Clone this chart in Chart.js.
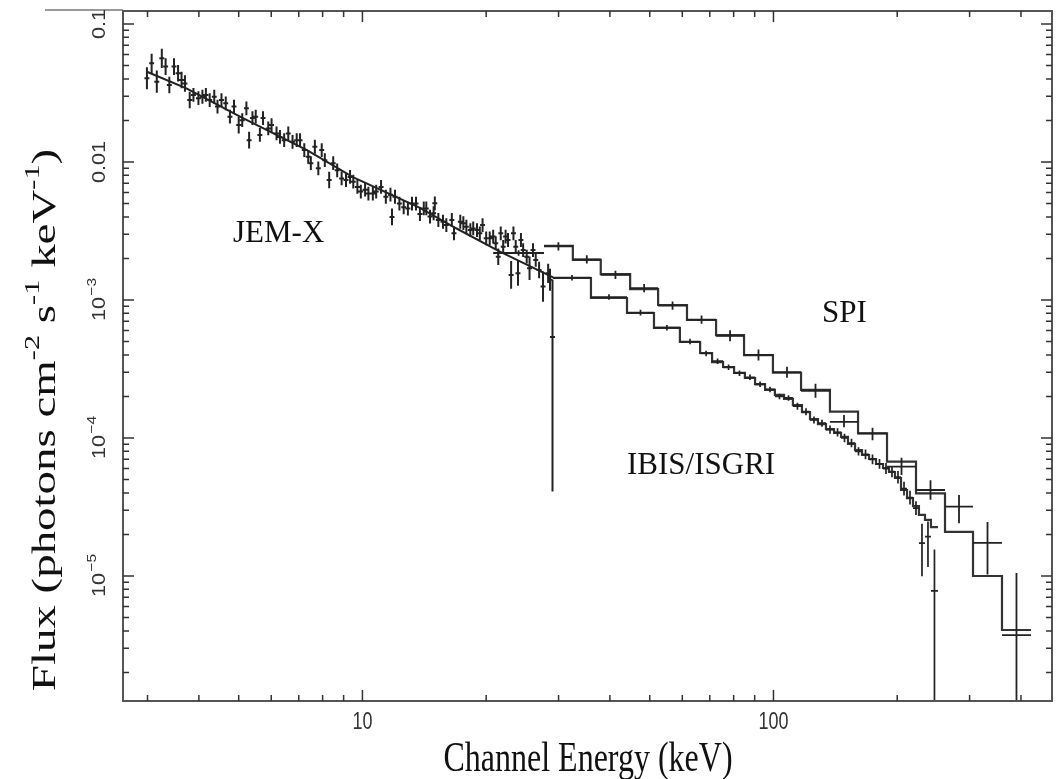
<!DOCTYPE html>
<html>
<head>
<meta charset="utf-8">
<script src="https://cdn.jsdelivr.net/npm/chart.js@4.4.1/dist/chart.umd.min.js"></script>
<style>
  html, body { margin: 0; padding: 0; background: #fff; }
  #wrap { width: 1062px; height: 779px; position: relative; }
</style>
</head>
<body>
<div id="wrap"><canvas id="spectrum"></canvas></div>
<script>
// ---- values ----
// JEM-X channels (keV), flux, error (dex, symmetric)
const jemE = [2.99,3.07,3.16,3.25,3.32,3.39,3.48,3.56,3.63,3.70,
  3.80,3.88,3.99,4.08,4.16,4.25,4.36,4.44,4.54,4.65,
  4.76,4.87,5.00,5.10,5.22,5.30,5.40,5.50,5.63,5.73,
  5.90,6.01,6.18,6.30,6.45,6.60,6.76,6.92,7.05,7.22,
  7.38,7.49,7.66,7.81,7.96,8.10,8.30,8.49,8.68,8.90,
  9.12,9.33,9.50,9.72,9.91,10.15,10.34,10.6,10.8,11.1,
  11.4,11.7,11.8,12.0,12.3,12.6,12.9,13.2,13.5,13.8,
  14.1,14.3,14.6,14.9,15.0,15.3,15.7,16.0,16.5,16.7,
  17.3,17.6,17.9,18.3,18.6,19.0,19.3,19.6,20.0,20.4,
  20.8,21.1,21.4,21.7,22.0,22.3,22.6,23.0,23.3,23.6,
  23.9,24.3,24.6,25.1,25.5,26.0,26.4,26.9,27.5,28.3,28.6];
const jemF = [0.0404,0.0519,0.0382,0.0564,0.0491,0.0361,0.0491,0.0440,0.0393,0.0371,
  0.0281,0.0306,0.0290,0.0297,0.0306,0.0281,0.0297,0.0252,0.0281,0.0266,
  0.0213,0.0252,0.0185,0.0201,0.0245,0.0144,0.0208,0.0213,0.0157,0.0208,
  0.0175,0.0185,0.0161,0.0152,0.0144,0.0161,0.0140,0.0144,0.0144,0.0122,
  0.0109,0.0098,0.0129,0.0090,0.0122,0.0103,0.0074,0.0098,0.0087,0.0076,
  0.0074,0.0078,0.0072,0.0066,0.0061,0.0063,0.0059,0.0059,0.0061,0.0066,
  0.0056,0.0058,0.0040,0.0056,0.0050,0.0047,0.0046,0.0050,0.0050,0.0042,
  4.61e-3,4.61e-3,4.02e-3,4.25e-3,5.02e-3,3.80e-3,3.69e-3,3.49e-3,3.80e-3,3.04e-3,
  3.69e-3,3.60e-3,3.40e-3,3.21e-3,3.30e-3,3.21e-3,3.04e-3,3.49e-3,2.80e-3,2.80e-3,
  2.88e-3,2.58e-3,2.06e-3,3.04e-3,2.43e-3,2.88e-3,2.72e-3,1.52e-3,3.04e-3,2.43e-3,
  1.56e-3,2.72e-3,2.30e-3,2.06e-3,1.70e-3,2.30e-3,1.95e-3,1.65e-3,1.25e-3,1.56e-3,1.40e-3];
const jemErr = [0.08,0.07,0.08,0.07,0.06,0.06,0.06,0.06,0.06,0.06,
  0.06,0.05,0.05,0.05,0.05,0.05,0.05,0.05,0.05,0.05,
  0.05,0.05,0.06,0.05,0.05,0.06,0.05,0.05,0.05,0.05,
  0.05,0.05,0.05,0.05,0.05,0.05,0.05,0.05,0.05,0.05,
  0.05,0.05,0.05,0.05,0.05,0.05,0.06,0.05,0.05,0.05,
  0.05,0.05,0.05,0.05,0.05,0.05,0.05,0.05,0.05,0.05,
  0.05,0.05,0.06,0.05,0.05,0.05,0.05,0.05,0.05,0.05,
  0.05,0.05,0.05,0.05,0.05,0.05,0.05,0.05,0.05,0.05,
  0.05,0.05,0.05,0.05,0.05,0.05,0.05,0.05,0.05,0.05,
  0.05,0.05,0.06,0.05,0.05,0.05,0.05,0.10,0.05,0.05,
  0.09,0.05,0.05,0.05,0.085,0.05,0.05,0.06,0.11,0.07,0.08];
// last JEM-X channel with its long error bar
const jemTailE = [29.0];
const jemTailF = [5.4e-4];
const jemTailLo = [4.1e-5];
const jemTailHi = [1.4e-3];
// JEM-X model curve
const jemModelE = [2.99, 3.73, 5.12, 7.33, 9.48, 13.8, 16.9, 21.6, 29.1];
const jemModelF = [0.0451, 0.0342, 0.0208, 0.0122, 7.78e-3, 4.65e-3, 3.31e-3, 2.24e-3, 1.46e-3];

// IBIS/ISGRI bins (edges, keV), model and data
const isgriEdges = [29.08,35.97,44.02,51.2,59.2,66.3,70.9,75.4,80.2,85.2,90.2,95.4,
  100.8,106.1,111.5,117.3,122.7,128.3,134.2,140.4,146.0,151.8,157.9,164.2,170.8,
  177.6,184.7,191.0,197.5,204.3,211.3,218.5,225.9,233.7,241.6,251.3];
const isgriModel = [1.443e-3,1.034e-3,8.05e-4,6.27e-4,4.96e-4,4.13e-4,3.55e-4,3.27e-4,
  2.96e-4,2.72e-4,2.46e-4,2.23e-4,2.05e-4,1.92e-4,1.73e-4,1.54e-4,1.37e-4,1.26e-4,
  1.16e-4,1.09e-4,1.02e-4,9.05e-5,8.18e-5,7.53e-5,7.04e-5,6.48e-5,6.06e-5,5.67e-5,
  5.13e-5,4.20e-5,3.67e-5,3.21e-5,2.77e-5,2.55e-5,2.26e-5];
const isgriData = [1.45e-3,1.05e-3,8.1e-4,6.3e-4,5.0e-4,4.1e-4,3.6e-4,3.25e-4,
  2.95e-4,2.75e-4,2.45e-4,2.25e-4,2.0e-4,1.95e-4,1.7e-4,1.55e-4,1.35e-4,1.28e-4,
  1.15e-4,1.1e-4,1.0e-4,9.2e-5,8.0e-5,7.6e-5,7.0e-5,6.5e-5,6.0e-5,5.7e-5,
  5.2e-5,4.3e-5,3.7e-5,3.1e-5,1.73e-5,1.93e-5,7.8e-6];
const isgriErrUp = [0.02,0.02,0.02,0.02,0.02,0.02,0.02,0.02,0.02,0.02,0.02,0.02,
  0.02,0.02,0.025,0.025,0.025,0.025,0.03,0.03,0.03,0.03,0.03,0.035,0.035,0.035,
  0.04,0.04,0.045,0.05,0.05,0.05,0.14,0.11,0.30];
const isgriErrDn = [0.02,0.02,0.02,0.02,0.02,0.02,0.02,0.02,0.02,0.02,0.02,0.02,
  0.02,0.02,0.025,0.025,0.025,0.025,0.03,0.03,0.03,0.03,0.03,0.035,0.035,0.035,
  0.04,0.04,0.045,0.05,0.05,0.05,0.24,0.22,3.0];

// SPI bins (edges, keV); the model covers every bin but the first
const spiEdges = [20.8,27.65,32.5,38.0,44.8,52.4,61.6,72.5,84.8,99.7,116.7,137.2,160.6,
  188.9,222.2,261.4,305.8,359.7,423.1];
const spiModel = [2.47e-3,1.95e-3,1.54e-3,1.20e-3,9.2e-4,7.16e-4,5.57e-4,3.99e-4,
  2.97e-4,2.23e-4,1.55e-4,1.08e-4,6.74e-5,3.97e-5,2.09e-5,1.0e-5,4.06e-6];
const spiData = [2.19e-3,2.45e-3,1.97e-3,1.52e-3,1.22e-3,9.1e-4,7.2e-4,5.5e-4,4.0e-4,
  3.0e-4,2.2e-4,1.31e-4,1.08e-4,6.2e-5,4.2e-5,3.18e-5,1.74e-5,3.73e-6];
const spiErrUp = [0.02,0.03,0.03,0.03,0.03,0.03,0.03,0.04,0.04,0.04,0.05,0.05,0.04,
  0.065,0.07,0.085,0.15,0.45];
const spiErrDn = [0.02,0.03,0.03,0.03,0.03,0.03,0.03,0.04,0.04,0.04,0.05,0.04,0.05,
  0.06,0.07,0.12,0.23,3.0];

// axes
const xMin = 2.615, xMax = 476;
const yMin = 1.242e-6, yMax = 0.1242;
const xMajor = [10, 100];
const xMinor = [3,4,5,6,7,8,9,20,30,40,50,60,70,80,90,200,300,400];
const xTickLabels = ['10', '100'];
const yMajor = [0.1, 0.01, 1e-3, 1e-4, 1e-5];
const yMinor = [2e-6,3e-6,4e-6,5e-6,6e-6,7e-6,8e-6,9e-6,
  2e-5,3e-5,4e-5,5e-5,6e-5,7e-5,8e-5,9e-5,
  2e-4,3e-4,4e-4,5e-4,6e-4,7e-4,8e-4,9e-4,
  2e-3,3e-3,4e-3,5e-3,6e-3,7e-3,8e-3,9e-3,
  0.02,0.03,0.04,0.05,0.06,0.07,0.08,0.09];
const yTickLabels = [['0.1'], ['0.01'], ['10', '\u22123'], ['10', '\u22124'], ['10', '\u22125']];

// ---- build datasets ----
const dex = (v, d) => v * Math.pow(10, d);
const jemHalf = 0.006; // half channel width in dex

const jemPoints = jemE.map((e, i) => ({
  x: e, y: jemF[i],
  xMin: dex(e, -jemHalf), xMax: dex(e, jemHalf),
  yMin: dex(jemF[i], -jemErr[i]), yMax: dex(jemF[i], jemErr[i])
})).concat(jemTailE.map((e, i) => ({
  x: e, y: jemTailF[i],
  xMin: dex(e, -jemHalf), xMax: dex(e, jemHalf),
  yMin: jemTailLo[i], yMax: jemTailHi[i]
})));

const binPoints = (edges, vals, up, dn) => vals.map((v, i) => ({
  x: Math.sqrt(edges[i] * edges[i + 1]), y: v,
  xMin: edges[i], xMax: edges[i + 1],
  yMin: dex(v, -dn[i]), yMax: dex(v, up[i])
}));

const stepLine = (edges, vals) =>
  vals.map((v, i) => ({ x: edges[i], y: v })).concat([{ x: edges[edges.length - 1], y: vals[vals.length - 1] }]);

const ink = '#222';

const errorBars = {
  id: 'errorBars',
  afterDatasetsDraw(chart) {
    const { ctx, chartArea: a, scales: { x, y } } = chart;
    ctx.save();
    ctx.beginPath();
    ctx.rect(a.left, a.top, a.right - a.left, a.bottom - a.top);
    ctx.clip();
    chart.data.datasets.forEach(ds => {
      if (!ds.errorBars) return;
      ctx.strokeStyle = ds.borderColor;
      ctx.lineWidth = ds.barWidth;
      ctx.beginPath();
      ds.data.forEach(p => {
        const px = x.getPixelForValue(p.x), py = y.getPixelForValue(p.y);
        ctx.moveTo(x.getPixelForValue(p.xMin), py);
        ctx.lineTo(x.getPixelForValue(p.xMax), py);
        ctx.moveTo(px, y.getPixelForValue(p.yMax));
        ctx.lineTo(px, y.getPixelForValue(p.yMin));
      });
      ctx.stroke();
    });
    ctx.restore();
  }
};

const sansFont = px => px + 'px "Liberation Sans", Arial, sans-serif';
const serifFont = px => px + 'px "Liberation Serif", "Times New Roman", serif';

// draws the frame, inward ticks on all four sides and all texts
const frameAndText = {
  id: 'frameAndText',
  afterDraw(chart) {
    const { ctx, chartArea: a, scales: { x, y } } = chart;
    ctx.save();

    ctx.strokeStyle = '#999';
    ctx.lineWidth = 2;
    ctx.beginPath();
    ctx.moveTo(45, a.top - 1);
    ctx.lineTo(a.left, a.top - 1);
    ctx.stroke();

    ctx.strokeStyle = '#555';
    ctx.lineWidth = 2;
    ctx.strokeRect(a.left, a.top, a.right - a.left, a.bottom - a.top);

    ctx.strokeStyle = '#333';
    ctx.lineWidth = 1.5;
    ctx.beginPath();
    const xt = (v, len) => {
      const px = x.getPixelForValue(v);
      ctx.moveTo(px, a.bottom); ctx.lineTo(px, a.bottom - len);
      ctx.moveTo(px, a.top); ctx.lineTo(px, a.top + len);
    };
    const yt = (v, len) => {
      const py = y.getPixelForValue(v);
      ctx.moveTo(a.left, py); ctx.lineTo(a.left + len, py);
      ctx.moveTo(a.right, py); ctx.lineTo(a.right - len, py);
    };
    xMajor.forEach(v => xt(v, 11));
    xMinor.forEach(v => xt(v, 6));
    yMajor.forEach(v => yt(v, 11));
    yMinor.forEach(v => yt(v, 6));
    ctx.stroke();

    // tick labels (the source figure is stretched vertically)
    ctx.fillStyle = '#333';
    ctx.textAlign = 'center';
    ctx.textBaseline = 'middle';
    xMajor.forEach((v, i) => {
      ctx.save();
      ctx.translate(x.getPixelForValue(v), 722);
      ctx.scale(1, 1.35);
      ctx.font = sansFont(18);
      ctx.fillText(xTickLabels[i], 0, 0);
      ctx.restore();
    });

    yMajor.forEach((v, i) => {
      const py = y.getPixelForValue(v);
      const [base, sup] = yTickLabels[i];
      ctx.save();
      ctx.translate(100, py);
      ctx.rotate(-Math.PI / 2);
      ctx.scale(1.2, 1);
      ctx.font = sansFont(18);
      const wb = ctx.measureText(base).width;
      let ws = 0;
      if (sup) {
        ctx.font = sansFont(13);
        ws = ctx.measureText(sup).width;
      }
      const start = -(wb + ws) / 2;
      ctx.textAlign = 'left';
      ctx.font = sansFont(18);
      ctx.fillText(base, start, 0);
      if (sup) {
        ctx.font = sansFont(13);
        ctx.fillText(sup, start + wb + 1, -8);
      }
      ctx.restore();
    });

    // axis titles
    ctx.fillStyle = '#111';
    ctx.save();
    ctx.translate(588, 760);
    ctx.scale(1, 1.3);
    ctx.textAlign = 'center';
    ctx.font = serifFont(32);
    ctx.fillText('Channel Energy (keV)', 0, 0);
    ctx.restore();

    const parts = [['Flux (photons cm', 0], ['-2', 1], [' s', 0], ['-1', 1], [' keV', 0], ['-1', 1], [')', 0]];
    const big = serifFont(34), small = serifFont(22);
    let total = 0;
    parts.forEach(([t, s]) => { ctx.font = s ? small : big; total += ctx.measureText(t).width; });
    ctx.save();
    ctx.translate(46, 420);
    ctx.rotate(-Math.PI / 2);
    ctx.scale(1.38, 1);
    ctx.textAlign = 'left';
    let cx = -total / 2;
    parts.forEach(([t, s]) => {
      ctx.font = s ? small : big;
      ctx.fillText(t, cx, s ? -13 : 0);
      cx += ctx.measureText(t).width;
    });
    ctx.restore();

    // instrument labels
    ctx.textAlign = 'left';
    ctx.textBaseline = 'alphabetic';
    ctx.font = serifFont(31);
    ctx.fillText('JEM-X', 233, 242);
    ctx.fillText('SPI', 822, 322);
    ctx.fillText('IBIS/ISGRI', 627, 474);

    ctx.restore();
  }
};

new Chart(document.getElementById('spectrum'), {
  type: 'scatter',
  data: {
    datasets: [
      { label: 'JEM-X model', data: jemModelE.map((e, i) => ({ x: e, y: jemModelF[i] })),
        showLine: true, borderColor: ink, borderWidth: 2, pointRadius: 0 },
      { label: 'ISGRI model', data: stepLine(isgriEdges, isgriModel),
        showLine: true, stepped: 'before', borderColor: '#333', borderWidth: 2.2, pointRadius: 0 },
      { label: 'SPI model', data: stepLine(spiEdges.slice(1), spiModel),
        showLine: true, stepped: 'before', borderColor: '#333', borderWidth: 2.2, pointRadius: 0 },
      { label: 'JEM-X', data: jemPoints, errorBars: true, barWidth: 2,
        borderColor: ink, pointRadius: 0 },
      { label: 'ISGRI', data: binPoints(isgriEdges, isgriData, isgriErrUp, isgriErrDn), errorBars: true,
        barWidth: 1.7, borderColor: ink, pointRadius: 0 },
      { label: 'SPI', data: binPoints(spiEdges, spiData, spiErrUp, spiErrDn), errorBars: true,
        barWidth: 1.8, borderColor: ink, pointRadius: 0 }
    ]
  },
  options: {
    responsive: true,
    maintainAspectRatio: false,
    animation: false,
    layout: { padding: { left: 123, top: 11, right: 10, bottom: 78 } },
    plugins: { legend: { display: false }, tooltip: { enabled: false } },
    scales: {
      x: { type: 'logarithmic', min: xMin, max: xMax, display: false },
      y: { type: 'logarithmic', min: yMin, max: yMax, display: false }
    }
  },
  plugins: [errorBars, frameAndText]
});
</script>
</body>
</html>
